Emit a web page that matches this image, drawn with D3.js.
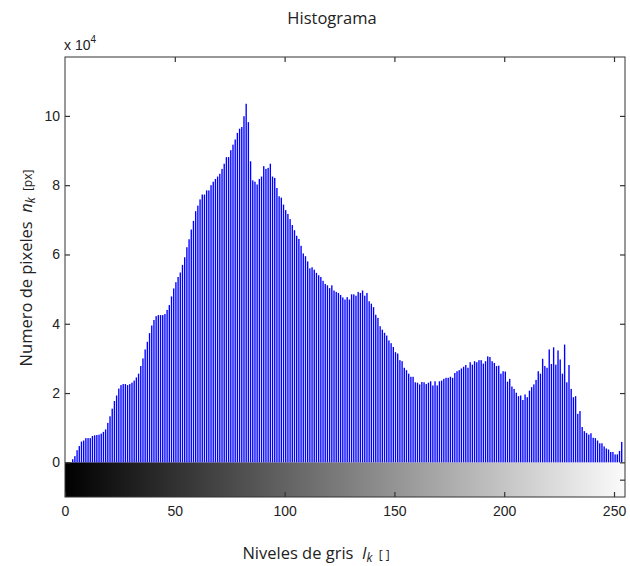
<!DOCTYPE html>
<html>
<head>
<meta charset="utf-8">
<script src="https://cdn.jsdelivr.net/npm/d3@7"></script>
<style>
  html, body { margin: 0; padding: 0; background: #fff; }
  svg { display: block; }
  text { font-family: "Liberation Sans", Arial, sans-serif; fill: #222; }
</style>
</head>
<body>
<svg id="chart" width="630" height="566"></svg>
<script>
// ---- data (counts in units of 10^4 pixels) ----
const grayLevels = d3.range(256);
const counts = [
  0, 0, 0, 0.09, 0.18, 0.35, 0.47, 0.60, 0.63, 0.70,
  0.70, 0.70, 0.76, 0.78, 0.79, 0.80, 0.83, 0.88, 0.95, 1.14,
  1.33, 1.55, 1.77, 1.93, 2.13, 2.23, 2.26, 2.26, 2.23, 2.26,
  2.30, 2.36, 2.45, 2.56, 2.78, 3.00, 3.26, 3.48, 3.73, 3.95,
  4.11, 4.22, 4.25, 4.25, 4.25, 4.28, 4.40, 4.54, 4.79, 5.02,
  5.20, 5.35, 5.48, 5.70, 5.92, 6.21, 6.44, 6.72, 6.97, 7.25,
  7.41, 7.59, 7.73, 7.73, 7.85, 7.85, 8.00, 8.10, 8.18, 8.25,
  8.33, 8.47, 8.62, 8.81, 8.81, 9.01, 9.17, 9.32, 9.51, 9.63,
  9.68, 9.99, 10.35, 9.82, 8.69, 8.14, 8.10, 8.02, 8.18, 8.25,
  8.55, 8.47, 8.50, 8.62, 8.25, 8.21, 7.92, 7.68, 7.64, 7.44,
  7.28, 7.17, 7.02, 6.85, 6.70, 6.54, 6.45, 6.25, 6.03, 5.95,
  5.80, 5.60, 5.63, 5.56, 5.47, 5.40, 5.35, 5.24, 5.15, 5.11,
  5.03, 5.11, 4.96, 4.92, 4.89, 4.83, 4.76, 4.70, 4.77, 4.70,
  4.85, 4.85, 4.81, 4.92, 4.89, 4.96, 4.81, 4.89, 4.65, 4.58,
  4.48, 4.26, 4.17, 3.93, 3.83, 3.74, 3.66, 3.52, 3.44, 3.33,
  3.18, 3.14, 2.95, 2.92, 2.73, 2.66, 2.56, 2.47, 2.47, 2.31,
  2.30, 2.25, 2.32, 2.31, 2.26, 2.30, 2.34, 2.22, 2.34, 2.22,
  2.34, 2.36, 2.41, 2.44, 2.44, 2.47, 2.44, 2.58, 2.63, 2.66,
  2.71, 2.76, 2.81, 2.73, 2.89, 2.82, 2.92, 2.89, 2.95, 2.95,
  2.85, 2.92, 3.06, 3.04, 2.92, 2.87, 2.78, 2.79, 2.56, 2.63,
  2.62, 2.33, 2.41, 2.19, 2.12, 2.01, 1.91, 1.93, 1.80, 1.96,
  1.88, 2.07, 2.17, 2.25, 2.38, 2.63, 2.56, 2.99, 2.78, 2.73,
  3.26, 2.84, 3.32, 2.82, 3.23, 2.97, 2.56, 3.40, 2.31, 2.81,
  2.12, 1.88, 1.91, 1.40, 1.48, 1.02, 0.90, 0.85, 0.80, 0.84,
  0.71, 0.70, 0.63, 0.55, 0.55, 0.46, 0.40, 0.37, 0.30, 0.30,
  0.23, 0.23, 0.33, 0.59, 0, 0
];
const xTicks = [0, 50, 100, 150, 200, 250];
const yTicks = [0, 2, 4, 6, 8, 10];
const titleText = "Histograma";
const xLabelText = "Niveles de gris";
const yLabelText = "Numero de pixeles";

// ---- layout ----
const svg = d3.select("#chart");
const L = 65, R = 625, T = 57, B = 497;
const x = d3.scaleLinear().domain([0, 255]).range([L, R]);
const y = d3.scaleLinear().domain([-1, 11.7]).range([B, T]);
const pitch = x(1) - x(0);
const barW = pitch * 0.62;

// gradient strip
const defs = svg.append("defs");
const grad = defs.append("linearGradient").attr("id", "gray").attr("x1", "0%").attr("x2", "100%");
grad.append("stop").attr("offset", "0%").attr("stop-color", "#000");
grad.append("stop").attr("offset", "100%").attr("stop-color", "#fbfbfb");
svg.append("rect").attr("x", x(0)).attr("y", y(0)).attr("width", x(255) - x(0))
  .attr("height", y(-1) - y(0)).attr("fill", "url(#gray)");

// bars
svg.append("g").selectAll("rect").data(grayLevels.filter(i => counts[i] > 0)).join("rect")
  .attr("x", i => x(i + 0.5) - barW / 2)
  .attr("y", i => y(counts[i]))
  .attr("width", barW)
  .attr("height", i => y(0) - y(counts[i]))
  .attr("fill", "#0000ff");

// box
svg.append("rect").attr("x", L).attr("y", T).attr("width", R - L).attr("height", B - T)
  .attr("fill", "none").attr("stroke", "#333").attr("stroke-width", 1);

// axes (ticks inward)
const tickLen = 5;
const axLeft = d3.axisLeft(y).tickValues(yTicks).tickSize(-tickLen).tickPadding(5).tickFormat(d3.format("d"));
const gL = svg.append("g").attr("transform", `translate(${L},0)`).call(axLeft);
const axRight = d3.axisRight(y).tickValues(yTicks.concat([-0.5])).tickSize(-tickLen).tickFormat("");
const gR = svg.append("g").attr("transform", `translate(${R},0)`).call(axRight);
const axTop = d3.axisTop(x).tickValues(xTicks.slice(1)).tickSize(-tickLen).tickFormat("");
const gT = svg.append("g").attr("transform", `translate(0,${T})`).call(axTop);
const axBot = d3.axisBottom(x).tickValues(xTicks).tickSize(-tickLen).tickPadding(6).tickFormat(d3.format("d"));
const gB = svg.append("g").attr("transform", `translate(0,${B})`).call(axBot);
[gL, gR, gT, gB].forEach(g => {
  g.select(".domain").remove();
  g.selectAll(".tick line").attr("stroke", "#333").attr("stroke-width", 1.2);
  g.selectAll("text").style("font-family", "'Liberation Sans', Arial, sans-serif")
    .style("font-size", "14px").attr("fill", "#222");
});
gB.selectAll("text").attr("dy", "0.9em");

// exponent label
const expo = svg.append("text").attr("x", L - 1).attr("y", 50).style("font-size", "14px");
expo.append("tspan").text("x 10");
expo.append("tspan").attr("dy", -7).style("font-size", "10px").text("4");

// title
svg.append("text").attr("x", 332).attr("y", 24).attr("text-anchor", "middle")
  .style("font-family", "'Open Sans', sans-serif").style("font-size", "16.5px").text(titleText);

// x label
const xl = svg.append("text").attr("x", 316).attr("y", 559).attr("text-anchor", "middle")
  .style("font-family", "'Open Sans', sans-serif").style("font-size", "16.5px");
xl.append("tspan").text(xLabelText + "\u00a0\u00a0");
xl.append("tspan").style("font-style", "italic").text("I");
xl.append("tspan").attr("dy", 3).style("font-style", "italic").style("font-size", "12px").text("k");
xl.append("tspan").attr("dy", -3).style("font-size", "12px").text("\u00a0\u00a0[\u00a0]");

// y label
const yl = svg.append("text").attr("transform", "translate(32,268) rotate(-90)").attr("text-anchor", "middle")
  .style("font-family", "'Open Sans', sans-serif").style("font-size", "16.5px");
yl.append("tspan").text(yLabelText + "\u00a0\u00a0");
yl.append("tspan").style("font-style", "italic").text("n");
yl.append("tspan").attr("dy", 3).style("font-style", "italic").style("font-size", "12px").text("k");
yl.append("tspan").attr("dy", -3).style("font-size", "12px").text("\u00a0\u00a0[px]");
</script>
</body>
</html>
